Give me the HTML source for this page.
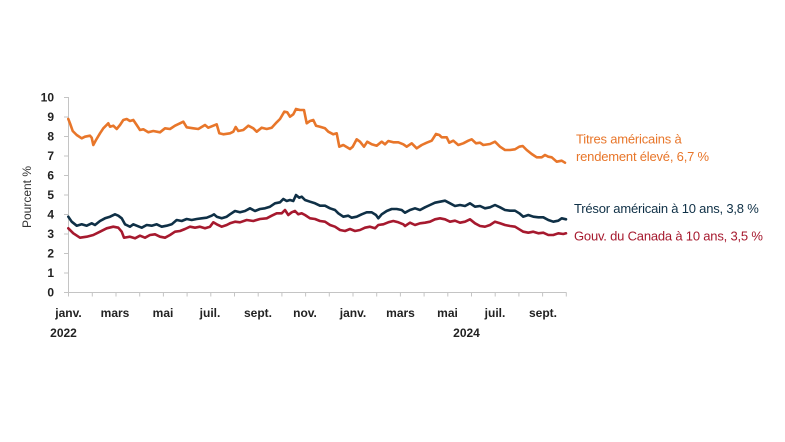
<!DOCTYPE html>
<html><head><meta charset="utf-8"><style>
html,body{margin:0;padding:0;background:#fff;}
svg{display:block;}
text{font-family:"Liberation Sans",sans-serif;}
.yl{font-size:12px;font-weight:bold;fill:#222;text-anchor:end;}
.xl{font-size:12px;font-weight:bold;fill:#222;text-anchor:middle;}
.lg{font-size:13px;letter-spacing:-0.2px;}
</style></head><body>
<svg width="785" height="442" viewBox="0 0 785 442" xmlns="http://www.w3.org/2000/svg">
<rect width="785" height="442" fill="#fff"/>
<!-- axes -->
<g stroke="#c4c4c4" stroke-width="1" fill="none">
<line x1="68.5" y1="97" x2="68.5" y2="293"/>
<line x1="68" y1="292.5" x2="566.5" y2="292.5"/>
<path d="M64 97.5H68.5M64 117H68.5M64 136.5H68.5M64 156H68.5M64 175.5H68.5M64 195H68.5M64 214.5H68.5M64 234H68.5M64 253.5H68.5M64 273H68.5M64 292.5H68.5"/>
<path d="M68.5 292.5v4M92.3 292.5v4M116 292.5v4M139.7 292.5v4M163.4 292.5v4M187.1 292.5v4M210.8 292.5v4M234.5 292.5v4M258.2 292.5v4M281.9 292.5v4M305.6 292.5v4M329.3 292.5v4M353 292.5v4M376.7 292.5v4M400.4 292.5v4M424.1 292.5v4M447.8 292.5v4M471.5 292.5v4M495.2 292.5v4M518.9 292.5v4M542.6 292.5v4M566.3 292.5v4"/>
</g>
<!-- y labels -->
<g class="yl">
<text x="54" y="101.5">10</text>
<text x="54" y="121">9</text>
<text x="54" y="140.5">8</text>
<text x="54" y="160">7</text>
<text x="54" y="179.5">6</text>
<text x="54" y="199">5</text>
<text x="54" y="218.5">4</text>
<text x="54" y="238">3</text>
<text x="54" y="257.5">2</text>
<text x="54" y="277">1</text>
<text x="54" y="296.5">0</text>
</g>
<text transform="translate(31,197) rotate(-90)" text-anchor="middle" font-size="12" fill="#333">Pourcent %</text>
<!-- x labels -->
<g class="xl">
<text x="68.5" y="317">janv.</text>
<text x="115" y="317">mars</text>
<text x="163" y="317">mai</text>
<text x="210" y="317">juil.</text>
<text x="258" y="317">sept.</text>
<text x="305" y="317">nov.</text>
<text x="353" y="317">janv.</text>
<text x="400.5" y="317">mars</text>
<text x="447.5" y="317">mai</text>
<text x="495" y="317">juil.</text>
<text x="543" y="317">sept.</text>
<text x="63.5" y="337">2022</text>
<text x="466.5" y="337">2024</text>
</g>
<!-- series -->
<g fill="none" stroke-width="2.6" stroke-linejoin="round" stroke-linecap="round">
<polyline stroke="#E8762A" points="68.3,119 70,123.3 72.7,131 76.7,135 81.7,138.3 85,136.7 90,135.7 91.7,137.7 93.3,145 96,140 100,133.3 103.3,128.3 108.3,123.3 110,126.7 113.3,125.7 116.7,129 120,125 123.3,120 126.7,119 130,121 133.3,120 136.7,125 140,130 143.3,129.3 148.3,132.3 153.3,131 160,132.3 165,128.3 170,129 175,125.7 180,123.3 183.3,121.7 186.7,127.3 193.3,128.3 198.3,129 205,125 208.3,127.7 213.3,125.7 216.7,124.3 219.3,133.3 223.3,134.3 230,133.3 233.3,131.7 235.7,127 238.3,131 243.3,130 248.3,125.7 253.3,128.3 256.7,131.7 261.7,127.7 266.7,129 271.7,127.7 276.7,122.3 280,119 284.3,111.7 287.3,112.3 290,116.7 293.3,114.3 296,109 300,110 304,110 306.7,123.3 310,121 313.3,120 316,125.7 320,126.7 325,128.3 328.3,131.7 333.3,134.3 336.7,133.3 339.3,146.7 343.3,145 350,149 352.7,146.7 356.7,139.3 360,141.7 364,146.7 367.3,141.7 371.7,144.3 376.7,145.7 381.7,141.7 385,144.3 388.3,141 393.3,142.3 398.3,142.3 403.3,144.3 406.7,146.7 411.7,143.3 416.7,148.3 421.7,145 426.7,142.7 431.7,140.7 436,134 439.3,135 441.7,137.3 446.7,137.3 449.3,142.7 453.3,140.7 458.3,145 463.3,143.3 468.3,140.7 471.7,139.3 476,143.3 480,142.7 483.3,145 490,144 495,141.7 500,146.7 505,150 510,150 515,149.3 519.3,146.7 522.7,146 526.7,150 531.7,154 536.7,157.3 541.7,157.3 545,155 548.3,156.7 551.7,157.3 556.7,161.7 561.7,160.7 565,162.7"/>
<polyline stroke="#0F3046" points="68.3,216.7 71.7,221.7 76.7,225.7 81.7,224.3 86.7,225.7 91.7,223.3 95,225 100,221 105,218.3 110,216.7 115,214.3 118.3,215.7 121.7,218.3 125,224.3 130,226.7 133.3,224.3 136.7,225.7 141.7,227.7 146.7,225 151.7,225.7 156.7,224.3 161.7,226.7 166.7,225.7 171.7,224.3 176.7,220 181.7,221 186.7,219 191.7,220 196.7,219 201.7,218.3 206.7,217.7 211.7,215.7 214,214.3 216.7,216.7 221.7,218.3 226.7,216.7 230,214.3 235,211 240,212.3 245,211 250,208.3 255,211 260,209 265,208.3 270,206.7 275,203.3 280,202.3 283.3,199 286.7,201 290,200 293.3,201 296,195 299.3,197.7 301.7,196.7 305,200 310,201.7 315,203.3 320,205.7 325,205.7 330,208.3 335,210 338.3,213.3 343.3,216.7 348.3,215.7 351.7,217.7 356.7,216.7 361.7,214.3 366.7,212.3 371.7,212.3 376,215 378.3,218.3 381.7,214.3 386.7,211 391.7,209 396.7,209 401.7,210 405,212.7 410,210 415,208.3 420,210 425,207.3 430,205 435,202.7 440,201.7 445,200.7 450,203.3 455,206 460,205 465,206 470,203.3 475,206.7 480,206 485,208.3 490,207.3 495,205 500,207.3 505,210 510,210.7 515,210.7 519.3,213.3 523.3,216.7 528.3,215 533.3,216.7 538.3,217.3 543.3,217.3 548.3,220 553.3,221.7 558.3,220.7 561.7,218.3 566,219.3"/>
<polyline stroke="#A6192E" points="68.3,228.3 73.3,233.3 80,237.7 86.7,236.7 93.3,235 100,231.7 106.7,228.3 113.3,226.7 118.3,227.7 121.7,231.7 124,237.7 130,236.7 135,238.3 140,235.7 145,237.7 150,235 155,234.3 160,236.7 165,237.7 170,235 175,231.7 180,231 185,229 190,226.7 195,227.7 200,226.7 205,228.3 210,226.7 213.3,222.3 216.7,224.3 221.7,226.7 226.7,225 230,223.3 235,221.7 240,222.3 246.7,220 253.3,221 260,219 266.7,218.3 271.7,215.7 276.7,213.3 281.7,213.3 285,210 288.3,215 291.7,212.3 295,211 298.3,214.3 301.7,213.3 305,215 310,218.3 315,219 320,221 325,221.7 330,225 335,226.7 340,230 345,231 350,229 355,231 360,230 365,227.7 370,226.7 375,228.3 378.3,225 383.3,224.3 388.3,222.3 393.3,221 398.3,222.3 403.3,224.3 405,226 410,222.7 415,225 420,223.3 425,222.7 430,221.7 435,219.3 440,218.3 445,219.3 450,221.7 455,220.7 460,222.7 465,221.7 470,219.3 475,223.3 480,226 485,226.7 490,225 495,221.7 500,223.3 505,225 510,226 515,226.7 519.3,229.3 523.3,231.7 528.3,232.7 533.3,231.7 538.3,233.3 543.3,232.7 548.3,235 553.3,235 558.3,233.3 563.3,234 566,233.3"/>
</g>
<!-- legend -->
<text class="lg" x="576" y="143.5" fill="#E8762A">Titres américains à</text>
<text class="lg" x="576" y="161.2" fill="#E8762A">rendement élevé, 6,7 %</text>
<text class="lg" x="574" y="213" fill="#0F3046">Trésor américain à 10 ans, 3,8 %</text>
<text class="lg" x="574" y="240.3" fill="#A6192E">Gouv. du Canada à 10 ans, 3,5 %</text>
</svg>
</body></html>
